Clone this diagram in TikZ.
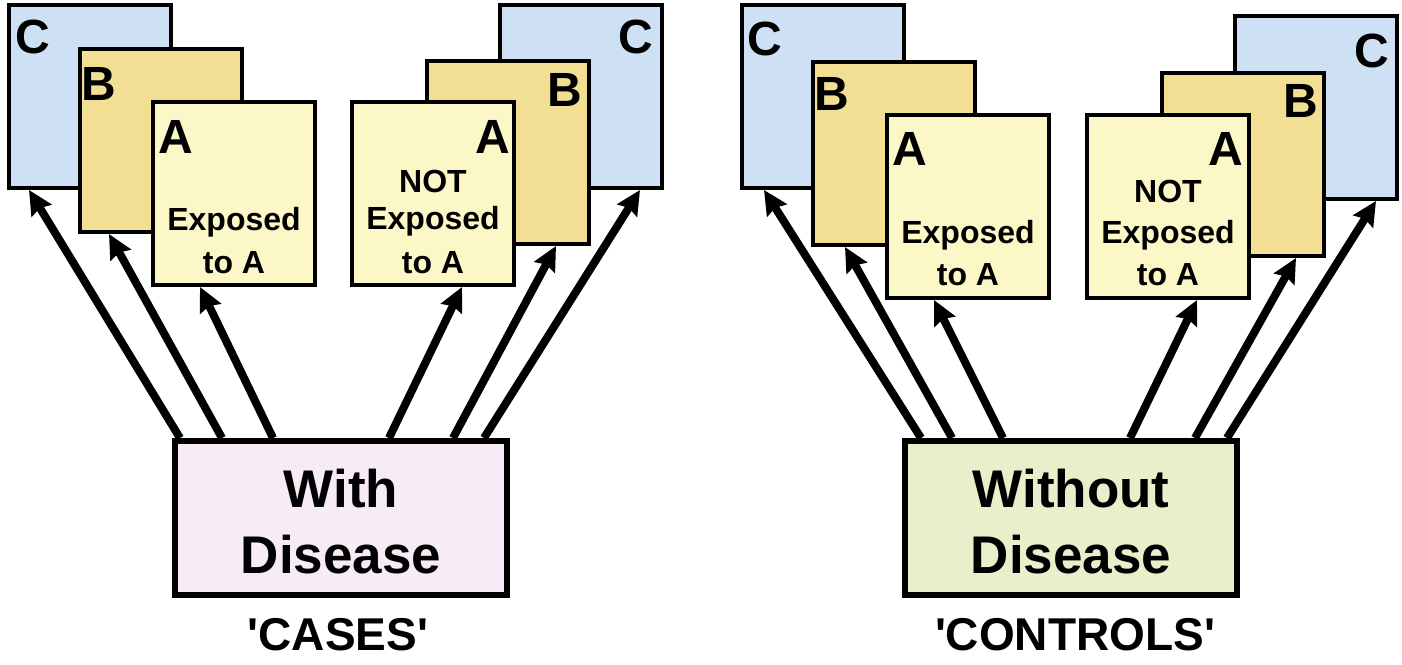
\documentclass[tikz,border=0pt]{standalone}
\usepackage{fontspec}
\setmainfont{Liberation Sans}
\newfontfamily\plainquote{Liberation Sans}[Ligatures=TeXOff]
\usetikzlibrary{arrows.meta,calc}
\definecolor{cblue}{HTML}{CDE0F4}
\definecolor{byel}{HTML}{F3DF94}
\definecolor{ayel}{HTML}{FCF7C6}
\definecolor{pinkbox}{HTML}{F7ECF5}
\definecolor{greenbox}{HTML}{E9EFCB}
\tikzset{
  panel/.style={draw=black, line width=4pt, minimum width=162pt, minimum height=183pt,
    anchor=north west, inner sep=0pt},
  cpanel/.style={panel, fill=cblue},
  bpanel/.style={panel, fill=byel},
  apanel/.style={panel, fill=ayel},
  letter/.style={font=\fontsize{48}{48}\selectfont\bfseries, inner sep=0pt},
  body/.style={font=\fontsize{32}{32}\selectfont\bfseries, inner sep=0pt, anchor=base},
  group/.style={draw=black, line width=6pt, minimum width=332pt, minimum height=154pt,
    anchor=north west, inner sep=0pt},
  big/.style={font=\fontsize{53}{53}\selectfont\bfseries, inner sep=0pt, anchor=base},
  caption/.style={font=\fontsize{46}{46}\selectfont\bfseries\plainquote, inner sep=0pt, anchor=base},
  link/.style={line width=8pt, -{Stealth[length=24pt,width=23pt,inset=3pt]}},
}
\begin{document}
\begin{tikzpicture}[x=1pt, y=-1pt]
\useasboundingbox[fill=white] (0,0) rectangle (1402,664);

% ---------- cases: exposure stacks ----------
\node[cpanel] (c1) at (7,3) {};
\node[bpanel] (b1) at (78,47) {};
\node[apanel] (a1) at (151,100) {};
\node[cpanel] (c2) at (498,3) {};
\node[bpanel] (b2) at (425,59) {};
\node[apanel] (n1) at (350,100) {};

\node[letter, anchor=base west] (c1t) at (15,53) {C};
\node[letter, anchor=base west] (b1t) at (81,100) {B};
\node[letter, anchor=base west] (a1t) at (158,153) {A};
\node[letter, anchor=base east] (n1t) at (510,153) {A};
\node[letter, anchor=base east] (b2t) at (582,106) {B};
\node[letter, anchor=base east] (c2t) at (653,53) {C};

\node[body] (a1x) at (234,230) {Exposed};
\node[body] (a1y) at (234,273) {to A};
\node[body] (n1w) at (433,192) {NOT};
\node[body] (n1x) at (433,229) {Exposed};
\node[body] (n1y) at (433,273) {to A};

% ---------- controls: exposure stacks ----------
\node[cpanel] (c3) at (740,3) {};
\node[bpanel] (b3) at (811,60) {};
\node[apanel] (a3) at (885,113) {};
\node[cpanel] (c4) at (1233,14) {};
\node[bpanel] (b4) at (1160,71) {};
\node[apanel] (n3) at (1085,113) {};

\node[letter, anchor=base west] (c3t) at (747,55) {C};
\node[letter, anchor=base west] (b3t) at (814,110) {B};
\node[letter, anchor=base west] (a3t) at (892,165) {A};
\node[letter, anchor=base east] (n3t) at (1243,165) {A};
\node[letter, anchor=base east] (b4t) at (1318,117) {B};
\node[letter, anchor=base east] (c4t) at (1389,67) {C};

\node[body] (a3x) at (968,243) {Exposed};
\node[body] (a3y) at (968,285) {to A};
\node[body] (n3w) at (1168,202) {NOT};
\node[body] (n3x) at (1168,243) {Exposed};
\node[body] (n3y) at (1168,285) {to A};

% ---------- study groups ----------
\node[group, fill=pinkbox] (dl) at (172,438) {};
\node[big] (dlw) at (341,507) {With};
\node[big] (dld) at (341,573) {Disease};
\node[caption] (dlc) at (338,650) {'CASES'};

\node[group, fill=greenbox] (dr) at (902,438) {};
\node[big] (drw) at (1071,507) {Without};
\node[big] (drd) at (1071,573) {Disease};
\node[caption] (drc) at (1075,650) {'CONTROLS'};

% ---------- connectors ----------
\draw[link] ($(dl.north west)+(8,0)$)   -- ($(c1.south west)+(22,0)$);
\draw[link] ($(dl.north west)+(50,0)$)  -- ($(b1.south west)+(31,0)$);
\draw[link] ($(dl.north west)+(101,0)$) -- ($(a1.south west)+(49,0)$);
\draw[link] ($(dl.north west)+(217,0)$) -- ($(n1.south west)+(112,0)$);
\draw[link] ($(dl.north west)+(281,0)$) -- ($(b2.south west)+(131,0)$);
\draw[link] ($(dl.north west)+(312,0)$) -- ($(c2.south west)+(142,0)$);

\draw[link] ($(dr.north west)+(19,0)$)  -- ($(c3.south west)+(24,0)$);
\draw[link] ($(dr.north west)+(50,0)$)  -- ($(b3.south west)+(34,0)$);
\draw[link] ($(dr.north west)+(101,0)$) -- ($(a3.south west)+(49,0)$);
\draw[link] ($(dr.north west)+(228,0)$) -- ($(n3.south west)+(112,0)$);
\draw[link] ($(dr.north west)+(293,0)$) -- ($(b4.south west)+(136,0)$);
\draw[link] ($(dr.north west)+(325,0)$) -- ($(c4.south west)+(143,0)$);
\end{tikzpicture}
\end{document}
